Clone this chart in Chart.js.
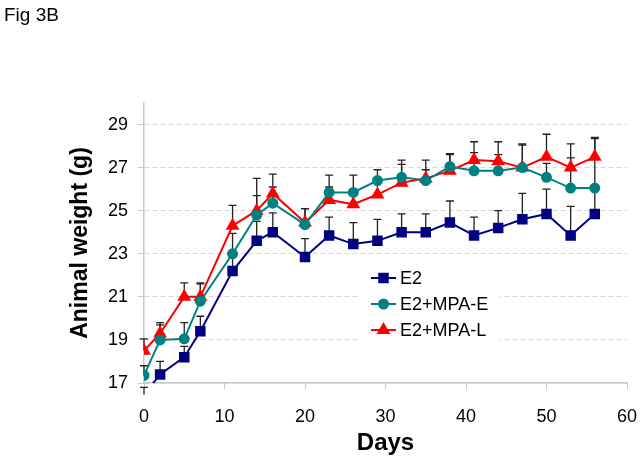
<!DOCTYPE html>
<html>
<head>
<meta charset="utf-8">
<title>Fig 3B</title>
<script src="https://cdn.jsdelivr.net/npm/chart.js"></script>
<style>
  html, body { margin: 0; padding: 0; background: #fff; }
  canvas { display: block; }
</style>
</head>
<body>
<canvas id="myChart" width="640" height="465"></canvas>
<script>
const ctx = document.getElementById('myChart').getContext('2d');

// Data
const days = [0, 2, 5, 7, 11, 14, 16, 20, 23, 26, 29, 32, 35, 38, 41, 44, 47, 50, 53, 56];

const e2 =     [16.45, 17.4, 18.2, 19.4, 22.2, 23.6, 24.0, 22.85, 23.85, 23.45, 23.6, 24.0, 24.0, 24.45, 23.85, 24.2, 24.6, 24.85, 23.85, 24.85];
const e2Err =  [0.35, 0.6, 0.5, 0.7, 0.8, 0.9, 0.9, 0.85, 0.85, 1.0, 1.0, 0.85, 0.85, 1.0, 0.85, 0.8, 1.2, 1.15, 1.35, 1.2];

const mpaE =    [17.35, 19.0, 19.05, 20.8, 23.0, 24.8, 25.35, 24.35, 25.85, 25.85, 26.4, 26.55, 26.4, 27.05, 26.85, 26.85, 27.0, 26.55, 26.05, 26.05];
const mpaEErr = [0.45, 0.7, 0.75, 0.8, 0.95, 0.9, 0.75, 0.75, 0.8, 0.8, 0.5, 0.8, 0.95, 0.6, 0.85, 0.75, 1.05, 0.65, 1.4, 2.3];

const mpaL =    [18.5, 19.3, 21.0, 21.0, 24.3, 25.0, 25.8, 24.45, 25.5, 25.3, 25.75, 26.3, 26.5, 26.85, 27.35, 27.3, 27.0, 27.5, 27.0, 27.5];
const mpaLErr = [0.55, 0.5, 0.65, 0.65, 0.95, 1.5, 0.9, 0.65, 0.6, 0.6, 0.65, 0.85, 0.4, 0.75, 0.85, 0.9, 1.1, 1.05, 1.1, 0.9];

const yTicks = [17, 19, 21, 23, 25, 27, 29];

const FONT = "'Liberation Sans', Arial, Helvetica, sans-serif";

const toPoints = (vals) => vals.map((v, i) => ({ x: days[i], y: v }));

const data = {
    datasets: [{
        label: 'E2',
        data: toPoints(e2),
        errors: e2Err,
        borderColor: '#000080',
        backgroundColor: '#000080',
        pointStyle: 'rect',
        pointRadius: 6,
        borderWidth: 2
    }, {
        label: 'E2+MPA-E',
        data: toPoints(mpaE),
        errors: mpaEErr,
        borderColor: '#008080',
        backgroundColor: '#008080',
        pointStyle: 'circle',
        pointRadius: 4.5,
        borderWidth: 2
    }, {
        label: 'E2+MPA-L',
        data: toPoints(mpaL),
        errors: mpaLErr,
        borderColor: '#ff0000',
        backgroundColor: '#ff0000',
        pointStyle: 'triangle',
        pointRadius: 6,
        borderWidth: 2
    }]
};

// upper error bars with caps, drawn behind the series
const errorBars = {
    id: 'errorBars',
    beforeDatasetsDraw(chart) {
        const c = chart.ctx;
        const yScale = chart.scales.y;
        c.save();
        c.strokeStyle = '#222';
        c.lineWidth = 1.3;
        chart.data.datasets.forEach((ds, i) => {
            const meta = chart.getDatasetMeta(i);
            meta.data.forEach((pt, j) => {
                const top = yScale.getPixelForValue(ds.data[j].y + ds.errors[j]);
                c.beginPath();
                c.moveTo(pt.x, pt.y);
                c.lineTo(pt.x, top);
                c.moveTo(pt.x - 4, top);
                c.lineTo(pt.x + 4, top);
                c.stroke();
            });
        });
        c.restore();
    }
};

// legend box sitting inside the plot
const insideLegend = {
    id: 'insideLegend',
    afterDraw(chart) {
        const c = chart.ctx;
        c.save();
        c.fillStyle = '#fff';
        c.fillRect(360, 263, 140, 82);
        c.font = '18px ' + FONT;
        c.textBaseline = 'middle';
        chart.data.datasets.forEach((ds, i) => {
            const y = 278 + i * 26;
            c.strokeStyle = ds.borderColor;
            c.lineWidth = 2;
            c.beginPath();
            c.moveTo(371, y);
            c.lineTo(396, y);
            c.stroke();
            c.fillStyle = ds.backgroundColor;
            Chart.helpers.drawPoint(c, {
                pointStyle: ds.pointStyle,
                radius: ds.pointRadius,
                rotation: 0,
                borderWidth: 1
            }, 383.5, y);
            c.fillStyle = '#000';
            c.fillText(ds.label, 400, y + 1);
        });
        c.restore();
    }
};

const config = {
    type: 'line',
    data: data,
    plugins: [errorBars, insideLegend],
    options: {
        responsive: false,
        animation: false,
        layout: { padding: { left: 4, right: 13, top: 0, bottom: 0 } },
        elements: {
            line: { tension: 0 },
            point: { borderWidth: 1 }
        },
        plugins: {
            legend: { display: false },
            tooltip: { enabled: false },
            title: {
                display: true,
                text: 'Fig 3B',
                align: 'start',
                color: '#000',
                font: { family: FONT, size: 19, weight: 'normal' },
                padding: { top: 4, bottom: 76.2 }
            }
        },
        scales: {
            x: {
                type: 'linear',
                min: 0,
                max: 60,
                ticks: {
                    stepSize: 10,
                    color: '#000',
                    padding: 17,
                    font: { family: FONT, size: 18 }
                },
                grid: {
                    drawOnChartArea: false,
                    tickLength: 6,
                    tickColor: '#c8c8c8'
                },
                border: { color: '#c8c8c8', width: 1.5 },
                title: {
                    display: true,
                    text: 'Days',
                    color: '#000',
                    font: { family: FONT, size: 24, weight: 'bold' },
                    padding: { top: 0, bottom: 7 }
                },
                afterFit(scale) {
                    scale.height = 82;
                    scale.paddingLeft = 0;
                    scale.paddingRight = 0;
                }
            },
            y: {
                min: 17,
                max: 30,
                afterBuildTicks(scale) {
                    scale.ticks = yTicks.map(v => ({ value: v }));
                },
                ticks: {
                    color: '#000',
                    padding: 10,
                    font: { family: FONT, size: 18 }
                },
                grid: {
                    color: '#d9d9d9',
                    tickColor: '#c8c8c8',
                    tickLength: 6
                },
                border: { color: '#c8c8c8', width: 1.5, dash: [5, 3] },
                title: {
                    display: true,
                    text: 'Animal weight (g)',
                    color: '#000',
                    font: { family: FONT, size: 23, weight: 'bold' },
                    padding: { top: 63, bottom: 0 }
                },
                afterFit(scale) {
                    scale.width = 140;
                    scale.paddingTop = 0;
                    scale.paddingBottom = 0;
                }
            }
        }
    }
};

let myChart = new Chart(ctx, config);
</script>
</body>
</html>
